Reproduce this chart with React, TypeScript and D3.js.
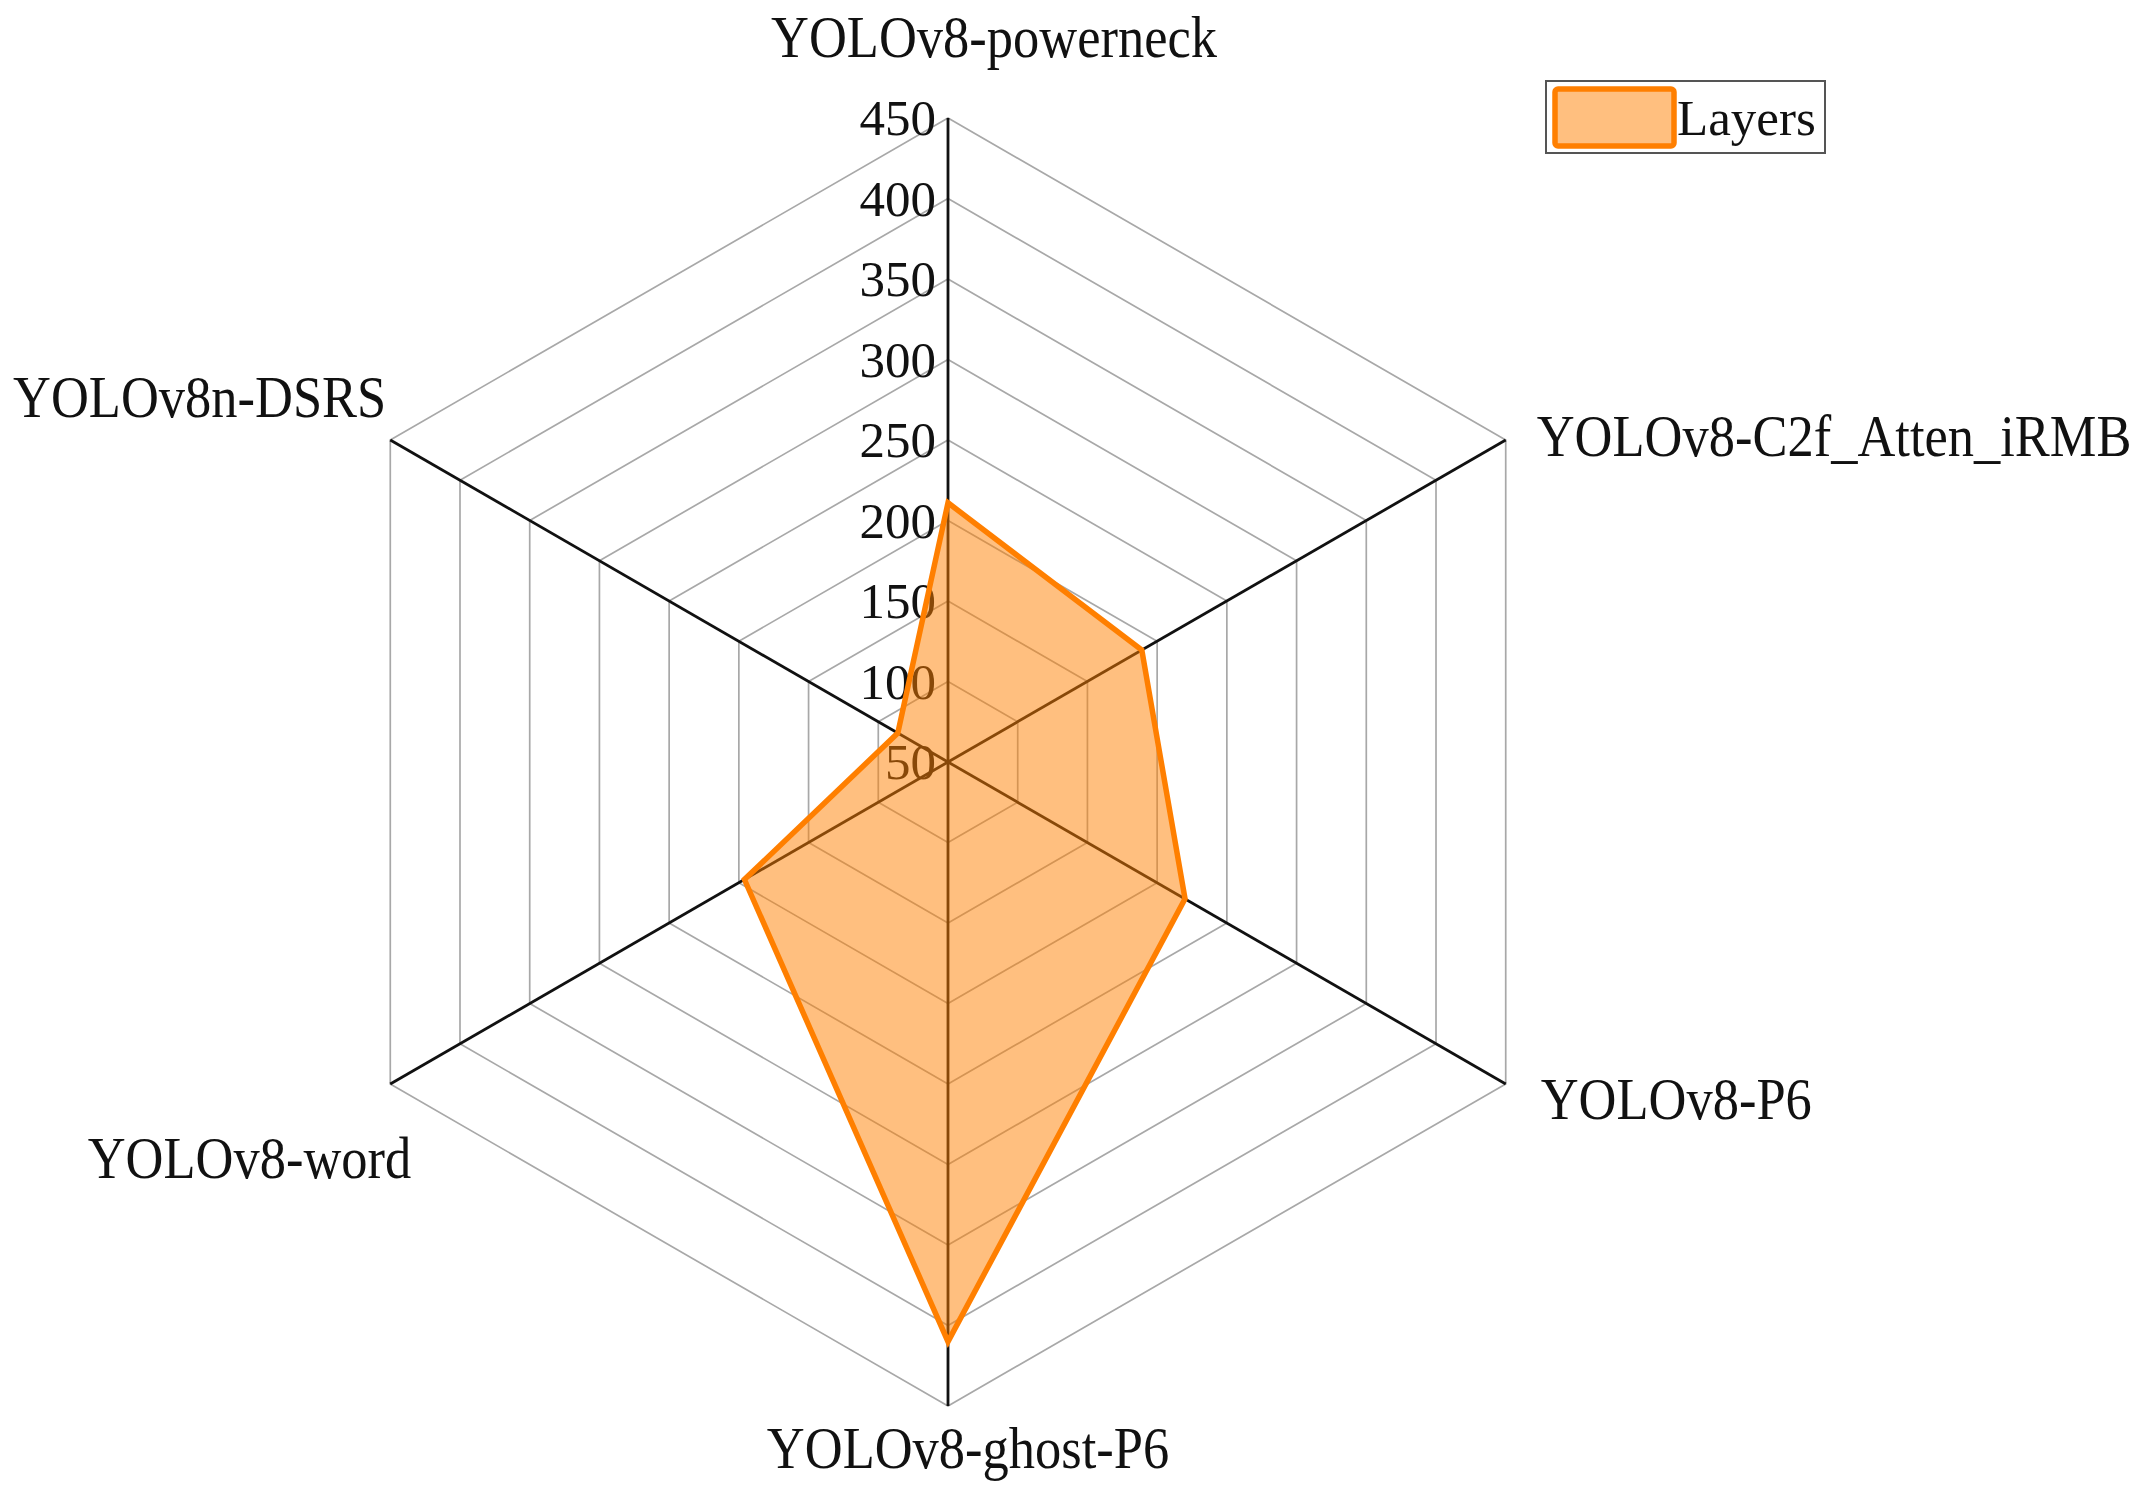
import React from 'react';
import * as d3 from 'd3';

// chart data
const categories = [
  'YOLOv8-powerneck',
  'YOLOv8-C2f_Atten_iRMB',
  'YOLOv8-P6',
  'YOLOv8-ghost-P6',
  'YOLOv8-word',
  'YOLOv8n-DSRS',
];
const layers = [211, 189, 220, 410, 196, 86];
const tickValues = [50, 100, 150, 200, 250, 300, 350, 400, 450];
const seriesName = 'Layers';

const W = 2148;
const H = 1502;
const cx = 948;
const cy = 762;
const R = 644;

// label placement relative to each axis end
const labelAnchor = ['middle', 'start', 'start', 'middle', 'end', 'end'];
const labelOffset: [number, number][] = [
  [46, -61],
  [31, 16],
  [35, 35],
  [20, 62],
  [21, 94],
  [-4, -23],
];

const FONT = '"Liberation Serif", "Times New Roman", serif';

export default function App() {
  const r = d3.scaleLinear().domain([50, 450]).range([0, R]);
  const angle = (i: number) => (i * 2 * Math.PI) / categories.length;
  const pt = (i: number, rad: number): [number, number] => [
    cx + rad * Math.sin(angle(i)),
    cy - rad * Math.cos(angle(i)),
  ];

  const radial = d3
    .lineRadial<number>()
    .angle((_, i) => angle(i))
    .radius((d) => d)
    .curve(d3.curveLinearClosed);

  const ringPath = (v: number) => radial(categories.map(() => r(v))) || '';

  const seriesPath =
    d3
      .lineRadial<number>()
      .angle((_, i) => angle(i))
      .radius((d) => r(d))
      .curve(d3.curveLinearClosed)(layers) || '';

  return (
    <div style={{ position: 'absolute', left: 0, top: 0 }}>
      <svg width={W} height={H} style={{ display: 'block', background: '#fff', fontFamily: FONT }}>
        <g transform={`translate(${cx},${cy})`}>
          {tickValues
            .filter((t) => t > 50)
            .map((t) => (
              <path key={t} d={ringPath(t)} fill="none" stroke="#a8a8a8" strokeWidth={1.7} />
            ))}
        </g>
        {categories.map((c, i) => {
          const [x, y] = pt(i, R);
          return <line key={c} x1={cx} y1={cy} x2={x} y2={y} stroke="#111" strokeWidth={2.8} />;
        })}
        {tickValues.map((t) => (
          <text
            key={t}
            x={cx - 12}
            y={cy - r(t)}
            dy="0.34em"
            textAnchor="end"
            fontSize={51}
            fill="#111"
          >
            {t}
          </text>
        ))}
        <g transform={`translate(${cx},${cy})`}>
          <path
            d={seriesPath}
            fill="rgba(255,127,0,0.5)"
            stroke="#ff7f00"
            strokeWidth={5.5}
            strokeLinejoin="miter"
          />
        </g>
        {categories.map((c, i) => {
          const [x, y] = pt(i, R);
          const [dx, dy] = labelOffset[i];
          return (
            <text
              key={c}
              transform={`translate(${x + dx},${y + dy}) scale(1,1.12)`}
              textAnchor={labelAnchor[i] as any}
              fontSize={52.5}
              fill="#111"
            >
              {c}
            </text>
          );
        })}
        <g transform="translate(1546,81)">
          <rect x={0} y={0} width={279} height={72} fill="#fff" stroke="#555" strokeWidth={2} />
          <rect
            x={9}
            y={8}
            width={119}
            height={57}
            rx={3}
            fill="rgba(255,127,0,0.5)"
            stroke="#ff7f00"
            strokeWidth={5.5}
          />
          <text x={131} y={54} fontSize={51} fill="#111">
            {seriesName}
          </text>
        </g>
      </svg>
    </div>
  );
}
